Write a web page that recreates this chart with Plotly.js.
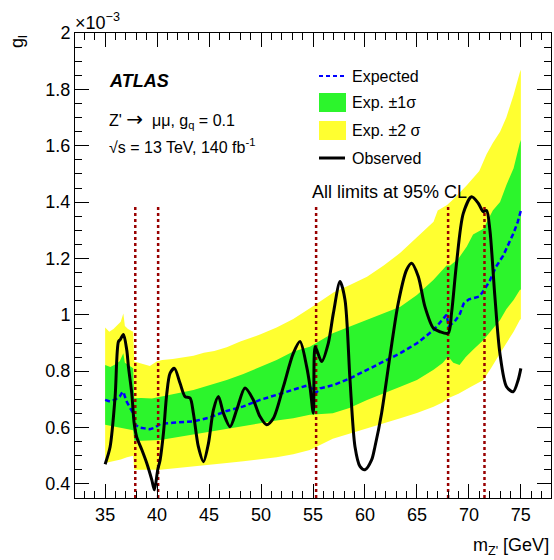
<!DOCTYPE html>
<html>
<head>
<meta charset="utf-8">
<script src="https://cdn.plot.ly/plotly-3.0.1.min.js"></script>
<style>html,body{margin:0;padding:0;background:#fff;}#plot{width:554px;height:560px;}</style>
</head>
<body>
<div id="plot"></div>
<script>
// ---- data (coupling limits in units of 1e-3) ----
const obsMass = [35.0,35.48,35.96,36.28,36.45,36.76,37.08,37.24,37.56,37.79,38.04,38.53,39.0,39.49,39.74,40.06,40.29,40.61,40.93,41.25,41.67,42.21,42.69,43.17,43.49,43.97,44.46,44.94,45.42,45.9,46.38,47.02,47.66,48.46,49.26,49.9,50.54,51.19,52.15,53.11,53.75,54.39,54.71,55.03,55.19,55.35,55.83,56.47,56.96,57.6,58.08,58.56,59.04,59.52,60.0,60.64,60.96,61.6,62.4,63.2,64.0,64.49,65.13,65.77,66.57,67.21,68.01,68.33,68.81,69.46,70.26,70.9,71.38,71.7,72.02,72.5,72.98,73.62,74.26,74.74,75.0];
const obsLimit = [0.47,0.532,0.71,0.905,0.912,0.93,0.875,0.816,0.722,0.616,0.566,0.521,0.474,0.414,0.379,0.45,0.485,0.58,0.72,0.793,0.81,0.757,0.71,0.705,0.651,0.532,0.479,0.544,0.663,0.71,0.651,0.603,0.663,0.74,0.698,0.639,0.61,0.633,0.745,0.864,0.905,0.816,0.745,0.651,0.887,0.876,0.834,0.899,1.006,1.118,1.053,0.769,0.532,0.462,0.45,0.485,0.532,0.651,0.852,1.041,1.159,1.183,1.136,1.029,0.953,0.94,0.935,1.006,1.183,1.36,1.419,1.396,1.366,1.37,1.301,1.065,0.864,0.745,0.727,0.769,0.81];

const expMass = [35.0,35.5,36.0,36.4,36.6,36.76,36.9,37.1,37.4,37.7,37.9,38.3,38.8,39.3,39.8,40.3,41.5,43.5,45.0,46.7,48.3,49.9,51.5,53.1,54.5,55.0,55.25,55.7,57.0,58.6,60.2,61.8,63.4,65.0,66.6,67.85,68.05,68.6,69.1,69.5,70.0,71.0,71.5,72.0,72.6,73.3,73.8,74.3,74.7,75.0];
const expLimit = [0.698,0.692,0.70,0.71,0.722,0.727,0.71,0.69,0.67,0.651,0.61,0.60,0.597,0.594,0.60,0.613,0.617,0.622,0.635,0.659,0.675,0.698,0.716,0.733,0.75,0.735,0.722,0.739,0.751,0.775,0.805,0.834,0.864,0.899,0.946,1.0,0.96,0.975,1.0,1.04,1.055,1.065,1.09,1.12,1.17,1.21,1.25,1.29,1.33,1.37];

const up2Mass = [35.0,35.4,35.8,36.2,36.5,36.75,36.9,37.2,37.5,37.7,37.8,38.5,39.3,40.0,40.5,41.5,42.5,43.5,44.5,45.5,46.7,48.0,49.9,51.5,53.1,54.0,55.0,56.0,57.0,58.5,60.2,61.8,63.4,65.0,66.6,67.0,67.9,68.5,69.8,71.0,71.7,72.3,73.0,73.6,74.3,74.9,75.0];
const up2Limit = [0.955,0.94,0.95,0.965,0.975,1.005,0.96,0.95,0.945,0.94,0.834,0.826,0.818,0.835,0.84,0.843,0.848,0.855,0.865,0.872,0.885,0.905,0.93,0.955,0.985,1.005,1.03,1.055,1.08,1.105,1.135,1.175,1.22,1.275,1.33,1.37,1.39,1.41,1.46,1.51,1.57,1.61,1.65,1.70,1.78,1.86,1.87];

const up1Mass = [35.0,35.5,36.0,36.4,36.75,36.9,37.3,37.7,37.8,38.5,39.5,40.3,41.5,43.5,45.0,46.7,48.3,49.9,51.5,53.1,54.7,56.9,58.5,60.2,61.8,63.4,65.0,66.6,67.85,68.2,69.0,69.8,70.4,71.4,72.3,73.0,73.6,74.3,74.9,75.0];
const up1Limit = [0.822,0.815,0.825,0.835,0.864,0.83,0.82,0.81,0.704,0.705,0.703,0.71,0.718,0.733,0.75,0.769,0.79,0.816,0.84,0.87,0.887,0.935,0.958,0.982,1.005,1.029,1.07,1.124,1.175,1.175,1.20,1.242,1.285,1.305,1.37,1.40,1.46,1.52,1.61,1.62];

const dn1Mass = [35.0,35.5,36.2,36.8,37.3,37.7,37.8,38.5,40.3,42.0,43.5,45.0,46.7,48.3,49.9,51.5,53.1,54.7,56.9,58.5,60.2,61.8,63.4,65.0,66.6,67.5,68.0,68.5,69.1,69.7,70.4,71.4,72.2,73.0,73.6,74.3,74.9,75.0];
const dn1Limit = [0.61,0.605,0.60,0.595,0.593,0.59,0.553,0.553,0.556,0.565,0.574,0.583,0.594,0.605,0.615,0.625,0.633,0.645,0.651,0.669,0.698,0.722,0.745,0.769,0.805,0.83,0.852,0.83,0.822,0.85,0.876,0.911,0.945,0.982,1.02,1.053,1.088,1.09];

const dn2Mass = [35.0,35.8,36.5,37.1,37.7,37.8,38.5,40.3,42.0,43.5,45.0,46.7,48.3,49.9,51.5,53.1,54.7,56.9,58.5,60.2,61.8,63.4,65.0,66.6,67.5,68.0,69.0,70.2,71.4,72.2,73.0,73.6,74.3,74.9,75.0];
const dn2Limit = [0.474,0.48,0.487,0.495,0.50,0.45,0.45,0.45,0.456,0.462,0.468,0.474,0.48,0.487,0.495,0.505,0.52,0.56,0.58,0.598,0.615,0.633,0.652,0.674,0.69,0.704,0.72,0.745,0.769,0.815,0.864,0.90,0.94,0.982,0.985];

const clLineMass = [37.9, 40.1, 55.3, 68.0, 71.5];
const clLineBottom = 0.35;
const clLineTop = 1.39;

const xTickVals = [35,40,45,50,55,60,65,70,75];
const yTickVals = [0.4,0.6,0.8,1.0,1.2,1.4,1.6,1.8,2.0];

// ---- build traces ----
function band(upM, upV, dnM, dnV) {
  return { x: upM.concat(dnM.slice().reverse()), y: upV.concat(dnV.slice().reverse()) };
}
const yb = band(up2Mass, up2Limit, dn2Mass, dn2Limit);
const gb = band(up1Mass, up1Limit, dn1Mass, dn1Limit);

const lx = [], ly = [];
clLineMass.forEach(m => { lx.push(m, m, null); ly.push(clLineBottom, clLineTop, null); });

const traces = [
  { x: yb.x, y: yb.y, type: 'scatter', mode: 'lines', fill: 'toself', fillcolor: '#ffff30', line: { width: 0 }, hoverinfo: 'skip' },
  { x: gb.x, y: gb.y, type: 'scatter', mode: 'lines', fill: 'toself', fillcolor: '#2cf52c', line: { width: 0 }, hoverinfo: 'skip' },
  { x: expMass, y: expLimit, type: 'scatter', mode: 'lines', line: { color: '#0000ff', width: 2.5, dash: '5px,3px' } },
  { x: lx, y: ly, type: 'scatter', mode: 'lines', line: { color: '#990000', width: 2.5, dash: '3px,3px' } },
  { x: obsMass, y: obsLimit, type: 'scatter', mode: 'lines', line: { color: '#000000', width: 3, shape: 'spline', smoothing: 0.8 } }
];

// ---- layout helpers (pixel -> paper) ----
const L = 75, R = 3, T = 33, B = 62, W = 554, H = 560;
const pw = W - L - R, ph = H - T - B;
const px = v => (v - L) / pw;
const py = v => (H - B - v) / ph;
const FONT = 'Liberation Sans, Arial, Helvetica, sans-serif';

function txt(text, x, y, size, xanchor, extra) {
  return Object.assign({ text: text, xref: 'paper', yref: 'paper', x: px(x), y: py(y), xanchor: xanchor || 'left', yanchor: 'middle', showarrow: false, font: { family: FONT, size: size, color: '#000' } }, extra || {});
}

const annotations = [
  txt('×10<sup>−3</sup>', 73, 22, 18),
  txt('g<sub>l</sub>', 18, 42, 18, 'center', { textangle: -90 }),
  txt('m<sub>Z\'</sub> [GeV]', 551, 546, 18, 'right'),
  txt('<b><i>ATLAS</i></b>', 107, 81, 18),
  txt('Z\' <span style="font-family:DejaVu Sans;font-size:20px">→</span>  μμ, g<sub>q</sub> = 0.1', 107, 119, 16),
  txt('√s = 13 TeV, 140 fb<sup>-1</sup>', 107, 146, 16),
  txt('Expected', 350, 76, 16),
  txt('Exp. ±1σ', 350, 103, 16),
  txt('Exp. ±2 σ', 350, 131, 16),
  txt('Observed', 350, 158, 16),
  txt('All limits at 95% CL', 310, 192, 18)
];

const shapes = [
  { type: 'line', xref: 'paper', yref: 'paper', x0: px(319), x1: px(345), y0: py(76), y1: py(76), line: { color: '#0000ff', width: 2, dash: '4px,3px' } },
  { type: 'rect', xref: 'paper', yref: 'paper', x0: px(319), x1: px(346), y0: py(93), y1: py(112), fillcolor: '#2cf52c', line: { width: 0 } },
  { type: 'rect', xref: 'paper', yref: 'paper', x0: px(319), x1: px(346), y0: py(121), y1: py(140), fillcolor: '#ffff30', line: { width: 0 } },
  { type: 'line', xref: 'paper', yref: 'paper', x0: px(319), x1: px(345), y0: py(158), y1: py(158), line: { color: '#000', width: 3 } }
];

const axisCommon = {
  ticks: 'inside', ticklen: 14, tickwidth: 1, tickcolor: '#000',
  showline: true, linecolor: '#000', linewidth: 1, mirror: 'ticks',
  showgrid: false, zeroline: false,
  tickfont: { family: FONT, size: 18, color: '#000' }
};

const layout = {
  width: W, height: H,
  margin: { l: L, r: R, t: T, b: B, pad: 0 },
  paper_bgcolor: '#fff', plot_bgcolor: '#fff',
  showlegend: false,
  xaxis: Object.assign({}, axisCommon, {
    range: [32.1, 77.9], tickvals: xTickVals, ticktext: xTickVals.map(String),
    minor: { dtick: 1, tick0: 0, ticks: 'inside', ticklen: 7, tickcolor: '#000', showgrid: false }
  }),
  yaxis: Object.assign({}, axisCommon, {
    range: [0.35, 2.0], tickvals: yTickVals, ticktext: yTickVals.map(v => String(+v.toFixed(1))),
    minor: { dtick: 0.05, tick0: 0, ticks: 'inside', ticklen: 7, tickcolor: '#000', showgrid: false }
  }),
  annotations: annotations,
  shapes: shapes
};

Plotly.newPlot('plot', traces, layout, { staticPlot: true, displayModeBar: false });
</script>
</body>
</html>
